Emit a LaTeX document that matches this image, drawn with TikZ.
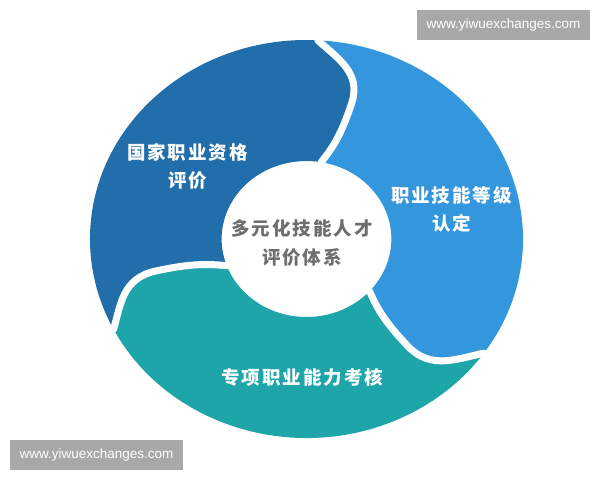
\documentclass[tikz,border=0pt]{standalone}
\usepackage{fontspec}
\setmainfont{Liberation Sans}
\newfontfamily\cjk{Noto Sans CJK SC}
\definecolor{cdark}{HTML}{216EAA}
\definecolor{clight}{HTML}{3496DC}
\definecolor{cteal}{HTML}{1EA5AA}
\definecolor{cgreytext}{HTML}{6E6E6E}
\definecolor{cwm}{HTML}{A8A8A8}
\makeatletter
\newcommand\lsp[1]{\lsp@a#1\relax}
\def\lsp@a#1{#1\lsp@b}
\def\lsp@b#1{\ifx#1\relax\else\hspace{2pt}#1\expandafter\lsp@b\fi}
\makeatother
\def\Ro{199}
\def\Ri{78}
% segment between gap #2 (clockwise end, with head) and gap #3
\newcommand\swirlseg[3]{%
  \fill[#1] ({#2+87}:\Ro) arc[start angle={#2+87}, end angle={#3+87}, radius=\Ro]
    .. controls ({#3+81.25}:183.3) and ({#3+73}:174) .. ({#3+73}:142)
    .. controls ({#3+73}:110) and ({#3+74.8}:96.4) .. ({#3+80}:\Ri)
    arc[start angle={#3+80}, end angle={#2+80}, radius=\Ri]
    .. controls ({#2+74.8}:96.4) and ({#2+73}:110) .. ({#2+73}:142)
    .. controls ({#2+73}:174) and ({#2+81.25}:183.3) .. ({#2+87}:\Ro) -- cycle;}
\newcommand\swirlgap[1]{%
  \draw[gapline] ({#1+87}:\Ro)
    .. controls ({#1+81.25}:183.3) and ({#1+73}:174) .. ({#1+73}:142)
    .. controls ({#1+73}:110) and ({#1+74.8}:96.4) .. ({#1+80}:\Ri);}
\tikzset{
  gapline/.style={white, line width=7pt, line cap=round},
  seglabel/.style={font=\cjk\bfseries\fontsize{18.5}{28}\selectfont, text=white, align=center, inner sep=0pt},
  centerlabel/.style={font=\cjk\bfseries\fontsize{18.5}{29}\selectfont, text=cgreytext, align=center, inner sep=0pt},
  wmbox/.style={fill=cwm, text=white, font=\fontsize{13.5}{15}\selectfont, minimum width=173pt, minimum height=30pt, inner sep=0pt}
}
\begin{document}
\begin{tikzpicture}[x=1pt,y=1pt]
\useasboundingbox (0,0) rectangle (600,480);
\begin{scope}[shift={(306.5,241)}, xscale=1.088]
  \swirlseg{cdark}{0}{120}
  \swirlseg{clight}{-122}{0}
  \swirlseg{cteal}{120}{238}
  \swirlgap{0}
  \swirlgap{120}
  \swirlgap{-122}
  \coordinate (hub) at (0,0);
\end{scope}
\node[seglabel] (national) at (187.5,314) {\lsp{国家职业资格}\\\lsp{评价}};
\node[seglabel] (level) at (451.5,271) {\lsp{职业技能等级}\\\lsp{认定}};
\node[seglabel] (special) at (302.5,103) {\lsp{专项职业能力考核}};
\node[centerlabel] (system) at (302,237.5) {\lsp{多元化技能人才}\\\lsp{评价体系}};
\node[wmbox] (wmtop) at (503.5,455) {www.yiwuexchanges.com};
\node[wmbox] (wmbottom) at (96.5,25) {www.yiwuexchanges.com};
\end{tikzpicture}
\end{document}
